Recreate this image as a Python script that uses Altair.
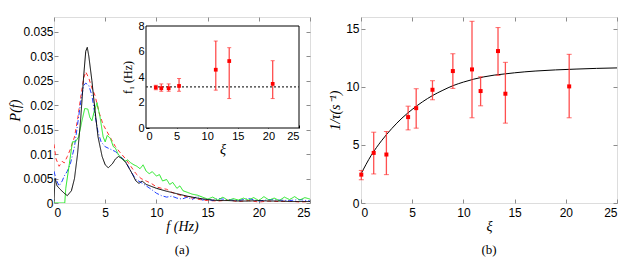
import altair as alt
import pandas as pd

# ---------------- Panel (a): power spectra P(f) ----------------
black_f = [0, 0.1, 0.3, 0.6, 1.0, 1.3, 1.7, 2.0, 2.3, 2.6, 2.9, 3.1, 3.25, 3.4, 3.7, 4.0, 4.3, 4.7, 5.0, 5.3,
           5.7, 6.0, 6.3, 6.7, 7.0, 7.5, 8.0, 8.3, 8.6, 9.0, 9.5, 10, 11, 12, 13, 14, 15, 16, 17, 18, 19, 20,
           21, 22, 23, 24, 25]
black_p = [0.0005, 0.005, 0.0035, 0.0028, 0.002, 0.0015, 0.0025, 0.005, 0.01, 0.017, 0.026, 0.031, 0.0318,
           0.03, 0.025, 0.019, 0.0135, 0.0095, 0.0078, 0.0072, 0.008, 0.009, 0.0095, 0.009, 0.0083, 0.0065,
           0.0045, 0.004, 0.0045, 0.0038, 0.0034, 0.003, 0.0024, 0.0019, 0.0014, 0.001, 0.0007, 0.0005,
           0.0005, 0.0004, 0.0004, 0.0005, 0.0004, 0.0004, 0.0003, 0.0003, 0.0003]

red_f = [0, 0.2, 0.5, 0.8, 1.0, 1.3, 1.6, 2.0, 2.3, 2.6, 2.9, 3.1, 3.4, 3.7, 4.0, 4.4, 4.8, 5.2, 5.6, 6.0,
         6.5, 7.0, 7.5, 8.0, 8.5, 9, 9.5, 10, 10.5, 11, 11.5, 12, 12.5, 13, 13.5, 14, 14.5, 15, 16, 17, 18,
         19, 20, 21, 22, 23, 24, 25]
red_p = [0.012, 0.009, 0.0075, 0.0085, 0.0082, 0.0095, 0.011, 0.0135, 0.017, 0.0215, 0.0255, 0.0268,
         0.0255, 0.0235, 0.022, 0.0185, 0.016, 0.0145, 0.013, 0.0115, 0.0102, 0.009, 0.0075, 0.006, 0.005,
         0.0045, 0.004, 0.0033, 0.003, 0.0028, 0.0022, 0.0018, 0.0015, 0.0012, 0.001, 0.0008, 0.0006,
         0.0005, 0.0004, 0.0006, 0.0003, 0.0005, 0.0002, 0.0004, 0.0003, 0.0004, 0.0002, 0.0003]

blue_f = [0, 0.2, 0.5, 0.8, 1.0, 1.3, 1.6, 2.0, 2.3, 2.6, 2.9, 3.1, 3.4, 3.7, 4.0, 4.3, 4.6, 5.0, 5.5,
          6.0, 6.5, 7.0, 7.5, 8.0, 8.5, 9, 9.5, 10, 10.5, 11, 11.5, 12, 12.5, 13, 13.5, 14, 14.5, 15, 15.5,
          16, 17, 18, 19, 20, 21, 22, 23, 24, 25]
blue_p = [0.0065, 0.0048, 0.0035, 0.0045, 0.0055, 0.0065, 0.008, 0.0115, 0.016, 0.0205, 0.024, 0.0245,
          0.024, 0.022, 0.018, 0.0145, 0.0125, 0.0115, 0.011, 0.0105, 0.0095, 0.0085, 0.0065, 0.0048,
          0.0042, 0.0035, 0.0028, 0.002, 0.0015, 0.0012, 0.0014, 0.001, 0.0008, 0.0012, 0.0007, 0.0014,
          0.0006, 0.0008, 0.0005, 0.0009, 0.0007, 0.0005, 0.0009, 0.0004, 0.0007, 0.0006, 0.0005, 0.0007,
          0.0004]

green_f = [0, 0.5, 1.05, 1.15, 1.5, 1.8, 2.1, 2.4, 2.7, 3.0, 3.3, 3.5, 3.7, 3.9, 4.2, 4.5, 4.8, 5.0, 5.2,
           5.5, 5.8, 6.0, 6.3, 6.6, 6.9, 7.2, 7.5, 7.8, 8.1, 8.4, 8.7, 9, 9.3, 9.6, 10, 10.3, 10.6, 11,
           11.3, 11.6, 12, 12.3, 12.6, 13, 13.5, 14, 14.5, 15, 15.5, 16, 16.5, 17, 17.5, 18, 18.5, 19,
           19.5, 20, 20.5, 21, 21.5, 22, 22.5, 23, 23.5, 24, 24.5, 25]
green_p = [0, 0, 0, 0.003, 0.008, 0.0125, 0.0125, 0.0135, 0.0165, 0.0193, 0.0192, 0.0175, 0.0168, 0.0185,
           0.0205, 0.0175, 0.0135, 0.0125, 0.0138, 0.0132, 0.0115, 0.0112, 0.0098, 0.0092, 0.0085, 0.0088,
           0.0082, 0.0078, 0.0075, 0.007, 0.0078, 0.0065, 0.006, 0.0064, 0.0055, 0.0058, 0.0045, 0.0048,
           0.0038, 0.0042, 0.003, 0.0035, 0.0025, 0.0022, 0.0018, 0.0016, 0.0012, 0.0008, 0.0012, 0.0006,
           0.0012, 0.0005, 0.0009, 0.0006, 0.001, 0.0006, 0.0011, 0.0005, 0.0013, 0.0006, 0.001, 0.0005,
           0.0012, 0.0007, 0.0013, 0.0006, 0.0011, 0.0008]

# inset: f1 vs xi
inset_xi = [1.6, 2.5, 3.7, 5.4, 11.4, 13.6, 20.7]
inset_f1 = [3.18, 3.12, 3.12, 3.3, 4.57, 5.25, 3.46]
inset_lo = [3.0, 2.88, 2.88, 2.88, 2.97, 2.31, 2.31]
inset_hi = [3.35, 3.46, 3.46, 3.88, 6.82, 6.3, 5.28]
inset_ref_xi = [0, 25]
inset_ref_f1 = [3.23, 3.23]
inset_frame = {"x0": [0], "x1": [25], "y0": [0], "y1": [8]}

# ---------------- Panel (b): 1/tau vs xi ----------------
b_xi = [0.03, 1.24, 2.48, 4.6, 5.39, 6.98, 8.97, 10.84, 11.68, 13.38, 14.1, 20.33]
b_val = [2.44, 4.31, 4.17, 7.39, 8.16, 9.74, 11.35, 11.49, 9.63, 13.07, 9.4, 10.03]
b_lo = [2.0, 2.5, 2.44, 6.29, 6.44, 8.88, 9.86, 7.33, 8.36, 10.98, 6.87, 7.33]
b_hi = [2.8, 6.09, 6.15, 8.33, 9.83, 10.52, 12.84, 15.63, 10.86, 15.09, 12.1, 12.79]
fit_xi = [0, 1, 2, 3, 4, 5, 6, 7, 8, 9, 10, 11, 12, 13, 14, 15, 17, 19, 21, 23, 25]
fit_val = [2.5, 4.1, 5.35, 6.4, 7.3, 8.05, 8.7, 9.25, 9.7, 10.1, 10.4, 10.65, 10.85, 11.0, 11.1, 11.2,
           11.35, 11.45, 11.52, 11.58, 11.62]

SANS = "Liberation Sans"
SERIF = "Liberation Serif"
W, H = 256, 186
FRAME = "#8c8c8c"
XT = [0, 5, 10, 15, 20, 25]
PT = [0, 0.005, 0.01, 0.015, 0.02, 0.025, 0.03, 0.035]
BT = [0, 5, 10, 15]


def main_x_axis(title):
    return alt.Axis(values=XT, title=title, offset=-4, tickSize=4, domain=False,
                    grid=False, tickColor=FRAME, labelPadding=4, labelFont=SANS, labelFontSize=12,
                    labelColor="black", titleFont=SERIF, titleFontSize=14, titleFontStyle="italic",
                    titleFontWeight="normal", titleColor="black", titlePadding=1)


def main_y_axis(title, values, fmt, label_pad, title_pad):
    return alt.Axis(values=values, title=title, format=fmt, offset=-4, tickSize=4, domain=False,
                    grid=False, tickColor=FRAME, labelPadding=label_pad, labelFont=SANS, labelFontSize=12,
                    labelColor="black", titleFont=SERIF, titleFontSize=14, titleFontStyle="italic",
                    titleFontWeight="normal", titleColor="black", titlePadding=title_pad)


def mirror_ticks(df, xf, yf, xdom, ydom, xvals, yvals):
    """Invisible layer whose only job is the inward ticks on the top and right frame edges."""
    return alt.Chart(df).mark_point(opacity=0).encode(
        x=alt.X(xf, scale=alt.Scale(domain=xdom, nice=False),
                axis=alt.Axis(orient="top", values=xvals, labels=False, title=None, domain=False,
                              grid=False, offset=-4, tickSize=4, tickColor=FRAME)),
        y=alt.Y(yf, scale=alt.Scale(domain=ydom, nice=False),
                axis=alt.Axis(orient="right", values=yvals, labels=False, title=None, domain=False,
                              grid=False, offset=-4, tickSize=4, tickColor=FRAME)),
    )


fx = alt.Scale(domain=[0, 25], nice=False)
py = alt.Scale(domain=[0, 0.038], nice=False)
ax_f = main_x_axis("f  (Hz)")
ax_p = main_y_axis("P(f)", PT, "~g", 1, 0)


def spectrum(f, p, color, dash):
    df = pd.DataFrame({"f": f, "P": p})
    return alt.Chart(df).mark_line(color=color, strokeWidth=1, strokeDash=dash, clip=True).encode(
        x=alt.X("f:Q", scale=fx, axis=ax_f),
        y=alt.Y("P:Q", scale=py, axis=ax_p),
        order="f:Q",
    )


spectra = alt.layer(
    spectrum(red_f, red_p, "#ff3030", [4, 3]),
    spectrum(blue_f, blue_p, "#2040ff", [5, 2, 1, 2]),
    spectrum(green_f, green_p, "#20e820", [1, 0]),
    spectrum(black_f, black_p, "black", [1, 0]),
)
ticks_a = mirror_ticks(pd.DataFrame({"f": black_f, "P": black_p}), "f:Q", "P:Q", [0, 25], [0, 0.038], XT, PT)

# inset scales placed inside the panel-(a) plot area
IX0, IX1, IY0, IY1 = 92, 245, 111, 9
ix = alt.Scale(domain=[0, 25], range=[IX0, IX1], nice=False)
iy = alt.Scale(domain=[0, 8], range=[IY0, IY1], nice=False)
ax_ix = alt.Axis(values=XT, title="ξ", orient="bottom", offset=-(H - IY0) - 3,
                 tickSize=3, domain=False, grid=False, tickColor="black", labelPadding=2,
                 labelFont=SANS, labelFontSize=11, labelColor="black", titleFont=SERIF, titleFontSize=14,
                 titleFontStyle="italic", titleFontWeight="normal", titleColor="black", titlePadding=1)
ax_iy = alt.Axis(values=[0, 2, 4, 6, 8], title="f₁ (Hz)", orient="left", offset=-IX0 - 3, tickSize=3,
                 domain=False, grid=False, tickColor="black", labelPadding=2, labelFont=SANS,
                 labelFontSize=11, labelColor="black", titleFont=SERIF, titleFontSize=12,
                 titleFontWeight="normal", titleColor="black", titlePadding=3)

frame_df = pd.DataFrame(inset_frame)
inset_bg = alt.Chart(frame_df).mark_rect(fill="white", stroke="black", strokeWidth=1).encode(
    x=alt.X("x0:Q", scale=ix, axis=ax_ix), x2="x1:Q",
    y=alt.Y("y0:Q", scale=iy, axis=ax_iy), y2="y1:Q",
)
ref_df = pd.DataFrame({"xi": inset_ref_xi, "f1": inset_ref_f1})
inset_ref = alt.Chart(ref_df).mark_line(color="#333333", strokeWidth=1.3, strokeDash=[2, 2]).encode(
    x=alt.X("xi:Q", scale=ix, axis=ax_ix), y=alt.Y("f1:Q", scale=iy, axis=ax_iy)
)
ins_df = pd.DataFrame({"xi": inset_xi, "f1": inset_f1, "lo": inset_lo, "hi": inset_hi})
ins_base = alt.Chart(ins_df)
ins_err = ins_base.mark_rule(color="#ff3030", strokeWidth=1.3, opacity=0.85).encode(
    x=alt.X("xi:Q", scale=ix, axis=ax_ix), y=alt.Y("lo:Q", scale=iy, axis=ax_iy), y2="hi:Q"
)
ins_cap_lo = ins_base.mark_tick(color="#ff3030", orient="horizontal", size=4, thickness=1).encode(
    x=alt.X("xi:Q", scale=ix, axis=ax_ix), y=alt.Y("lo:Q", scale=iy, axis=ax_iy)
)
ins_cap_hi = ins_base.mark_tick(color="#ff3030", orient="horizontal", size=4, thickness=1).encode(
    x=alt.X("xi:Q", scale=ix, axis=ax_ix), y=alt.Y("hi:Q", scale=iy, axis=ax_iy)
)
ins_pts = ins_base.mark_square(color="#ff0000", size=14, opacity=1).encode(
    x=alt.X("xi:Q", scale=ix, axis=ax_ix), y=alt.Y("f1:Q", scale=iy, axis=ax_iy)
)
inset = alt.layer(inset_bg, inset_ref, ins_err, ins_cap_lo, ins_cap_hi, ins_pts)

panel_a = alt.layer(spectra, ticks_a, inset).resolve_scale(x="independent", y="independent").properties(
    width=W, height=H,
    title=alt.TitleParams("(a)", orient="bottom", anchor="middle", font=SERIF, fontSize=13,
                          fontWeight="normal", color="black", offset=11),
)

# panel (b)
bx = alt.Scale(domain=[0, 25], nice=False)
by = alt.Scale(domain=[0, 16], nice=False)
ax_bx = main_x_axis("ξ")
ax_by = main_y_axis("1/τ(s⁻¹)", BT, "d", 2, 3)

fit_df = pd.DataFrame({"xi": fit_xi, "v": fit_val})
fit = alt.Chart(fit_df).mark_line(color="black", strokeWidth=1, interpolate="monotone").encode(
    x=alt.X("xi:Q", scale=bx, axis=ax_bx), y=alt.Y("v:Q", scale=by, axis=ax_by)
)
b_df = pd.DataFrame({"xi": b_xi, "v": b_val, "lo": b_lo, "hi": b_hi})
b_base = alt.Chart(b_df)
b_err = b_base.mark_rule(color="#ff3030", strokeWidth=1.3, opacity=0.85).encode(
    x=alt.X("xi:Q", scale=bx, axis=ax_bx), y=alt.Y("lo:Q", scale=by, axis=ax_by), y2="hi:Q"
)
b_cap_lo = b_base.mark_tick(color="#ff3030", orient="horizontal", size=5, thickness=1).encode(
    x=alt.X("xi:Q", scale=bx, axis=ax_bx), y=alt.Y("lo:Q", scale=by, axis=ax_by)
)
b_cap_hi = b_base.mark_tick(color="#ff3030", orient="horizontal", size=5, thickness=1).encode(
    x=alt.X("xi:Q", scale=bx, axis=ax_bx), y=alt.Y("hi:Q", scale=by, axis=ax_by)
)
b_pts = b_base.mark_square(color="#ff0000", size=16, opacity=1).encode(
    x=alt.X("xi:Q", scale=bx, axis=ax_bx), y=alt.Y("v:Q", scale=by, axis=ax_by)
)
ticks_b = mirror_ticks(fit_df, "xi:Q", "v:Q", [0, 25], [0, 16], XT, BT)
main_b = alt.layer(fit, b_err, b_cap_lo, b_cap_hi, b_pts)
panel_b = alt.layer(main_b, ticks_b).resolve_scale(x="independent", y="independent").properties(
    width=W, height=H,
    title=alt.TitleParams("(b)", orient="bottom", anchor="middle", font=SERIF, fontSize=13,
                          fontWeight="normal", color="black", offset=11),
)

chart = alt.hconcat(panel_a, panel_b, spacing=14).properties(
    padding={"left": 0, "top": 8, "right": 0, "bottom": 0}
).configure_view(stroke=FRAME, strokeWidth=1).configure(background="white")

chart.save("out.html", embed_options={"renderer": "svg", "actions": False})
